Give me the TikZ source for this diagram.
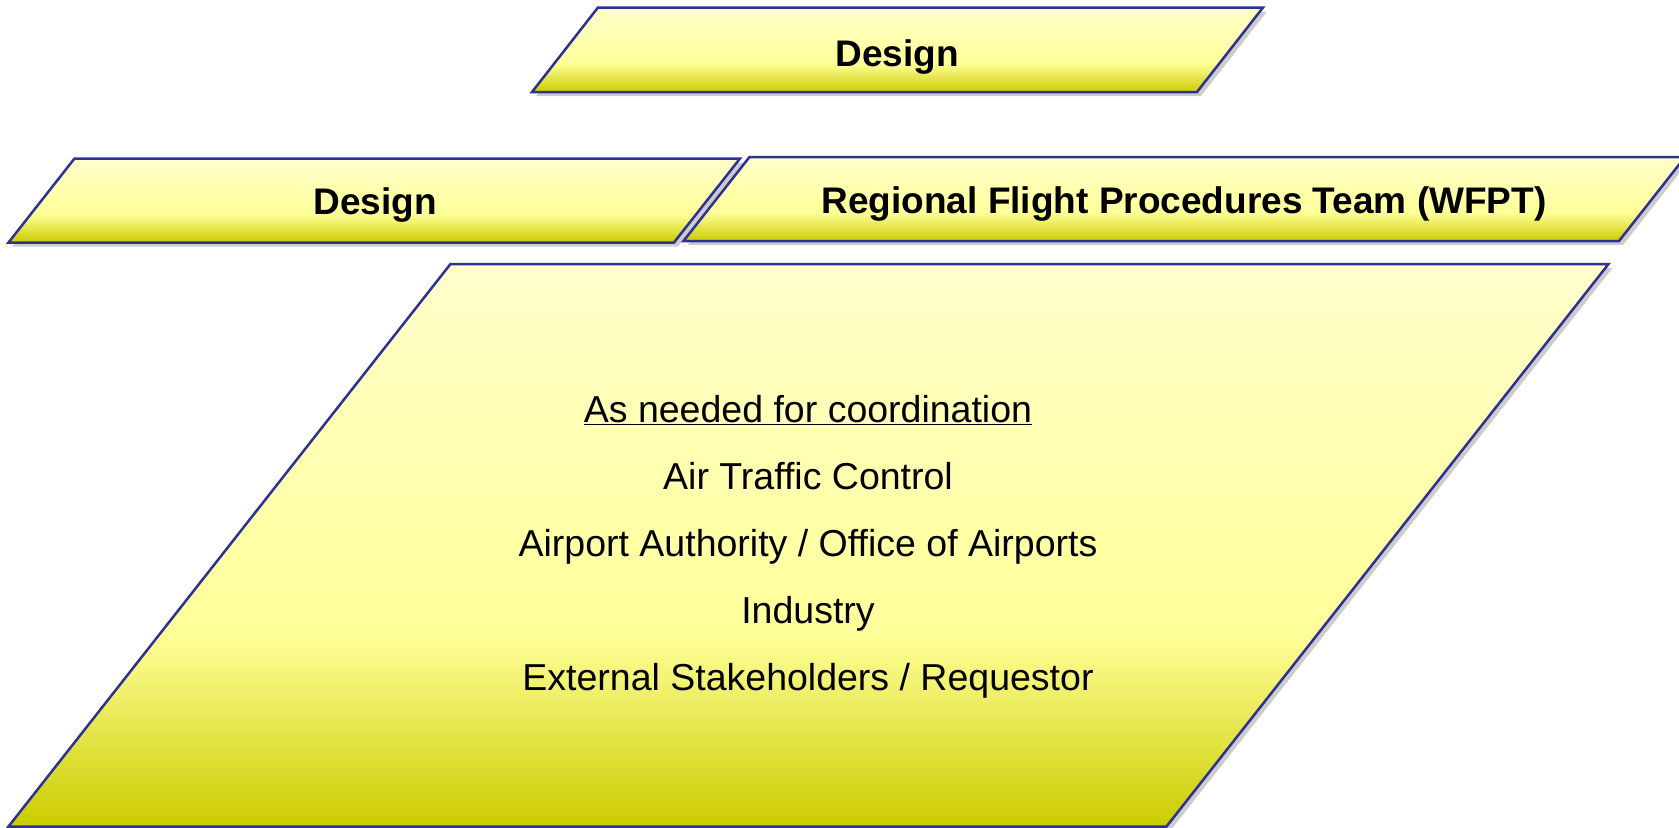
\documentclass[tikz,border=0pt]{standalone}
\usepackage{fontspec}
\setmainfont{Liberation Sans}
\usetikzlibrary{shadows}

\definecolor{slabedge}{HTML}{2E3192}
\definecolor{slablight}{HTML}{FFFFCC}
\definecolor{slabmid}{HTML}{FFFF99}
\definecolor{slabdark}{HTML}{CCCC00}
\pgfdeclareverticalshading{slabshade}{100bp}{color(0bp)=(slabdark); color(25bp)=(slabdark); color(42bp)=(slabmid); color(75bp)=(slablight); color(100bp)=(slablight)}

\tikzset{
  slab/.style={draw=slabedge, line width=2.5bp, line join=miter, shading=slabshade,
    drop shadow={opacity=0.4, shadow xshift=4bp, shadow yshift=-4bp}},
  headtext/.style={font=\fontsize{37bp}{44bp}\selectfont\bfseries, inner sep=0pt},
  listtext/.style={font=\fontsize{37.5bp}{67bp}\selectfont, align=center, inner sep=0pt}
}

\begin{document}
\begin{tikzpicture}[x=1bp, y=-1bp]
            \useasboundingbox (0,0) rectangle (1679,828);
            \clip (0,0) rectangle (1679,828);

            % Cajas superiores
            \draw[slab] (532,92) -- (598,7.5) -- (1263,7.5) -- (1197,92) -- cycle;
            \draw[slab] (8.5,242.5) -- (74.5,158.5) -- (740,158.5) -- (674,242.5) -- cycle;
            \draw[slab] (683.5,241) -- (749.5,157) -- (1685,157) -- (1619,241) -- cycle;

            % Caja grande
            \draw[slab] (8.5,826.5) -- (450.5,264) -- (1608.5,264) -- (1166.5,826.5) -- cycle;

            % Textos
            \node[headtext] (design) at (897,57) {Design};
            \node[headtext] (localdesign) at (375,205) {Design};
            \node[headtext] (wfpt) at (1184,204) {Regional Flight Procedures Team (WFPT)};

            \node[listtext] (coordlist) at (808,547) {\underline{As needed for coordination}\\
              Air Traffic Control\\
              Airport Authority / Office of Airports\\
              Industry\\
              External Stakeholders / Requestor};
\end{tikzpicture}
\end{document}
